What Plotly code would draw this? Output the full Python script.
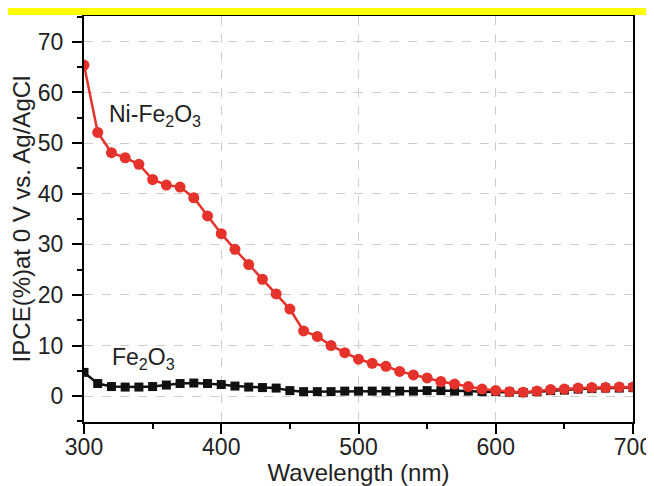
import plotly.graph_objects as go

wavelength = list(range(300, 701, 10))

ni_fe2o3 = [65.4, 52.1, 48.1, 47.1, 45.8, 42.8, 41.7, 41.3, 39.2, 35.6,
            32.1, 29.0, 26.0, 23.1, 20.2, 17.2, 12.9, 11.8, 10.0, 8.6,
            7.3, 6.5, 5.9, 4.9, 4.2, 3.6, 2.9, 2.4, 1.9, 1.4,
            1.1, 0.9, 0.8, 1.0, 1.3, 1.4, 1.6, 1.7, 1.7, 1.8, 1.8]

fe2o3 = [4.7, 2.5, 1.9, 1.8, 1.8, 1.9, 2.2, 2.5, 2.6, 2.5,
         2.3, 2.0, 1.8, 1.7, 1.6, 1.1, 0.9, 0.9, 0.9, 1.0,
         1.0, 1.0, 1.0, 1.0, 1.0, 1.1, 1.1, 1.0, 1.0, 0.9,
         0.9, 0.8, 0.7, 0.9, 1.1, 1.2, 1.4, 1.5, 1.6, 1.6, 1.7]

x_ticks = [300, 400, 500, 600, 700]
y_ticks = [0, 10, 20, 30, 40, 50, 60, 70]

FONT = "Arial, 'Liberation Sans', sans-serif"
RED = "#e5322b"
BLACK = "#111111"
GRID = "#d3cbc7"
TXT = "#222222"

W, H = 654, 478
ML, MR, MT, MB = 76, 29, 8, 64
PW = W - ML - MR
PH = H - MT - MB

fig = go.Figure()
fig.add_trace(go.Scatter(
    x=wavelength, y=fe2o3, mode="lines+markers",
    line=dict(color=BLACK, width=2.5),
    marker=dict(symbol="square", size=9, color=BLACK),
    showlegend=False))
fig.add_trace(go.Scatter(
    x=wavelength, y=ni_fe2o3, mode="lines+markers",
    line=dict(color=RED, width=2.5),
    marker=dict(symbol="circle", size=11, color=RED),
    showlegend=False))

fig.add_annotation(x=317, y=55.5, xref="x", yref="y",
                   text="Ni-Fe<sub>2</sub>O<sub>3</sub>", showarrow=False,
                   xanchor="left", yanchor="middle",
                   font=dict(family=FONT, size=23, color=TXT))
fig.add_annotation(x=319, y=7.5, xref="x", yref="y",
                   text="Fe<sub>2</sub>O<sub>3</sub>", showarrow=False,
                   xanchor="left", yanchor="middle",
                   font=dict(family=FONT, size=23, color=TXT))

# yellow bar at top
fig.add_shape(type="rect", xref="paper", yref="paper",
              x0=-ML / PW, x1=(W - ML) / PW, y0=1.0 + 1 / PH, y1=1.0 + MT / PH,
              fillcolor="#ffff00", line=dict(width=0), layer="above")

fig.update_xaxes(
    range=[300, 700], tickvals=x_ticks, ticktext=[str(v) for v in x_ticks],
    ticks="outside", ticklen=10, tickwidth=2, tickcolor="black",
    minor=dict(dtick=50, tick0=0, ticks="outside", ticklen=5, tickwidth=2,
               tickcolor="black", showgrid=False),
    showline=True, linecolor="black", linewidth=2, mirror=True,
    showgrid=True, gridcolor=GRID, gridwidth=1, griddash="dash",
    zeroline=False, automargin=False, ticklabelstandoff=-7,
    title=dict(text="Wavelength (nm)", font=dict(family=FONT, size=24, color=TXT), standoff=6),
    tickfont=dict(family=FONT, size=23, color=TXT))
fig.update_yaxes(
    range=[-5.1, 75.1], tickvals=y_ticks, ticktext=[str(v) for v in y_ticks],
    ticks="outside", ticklen=10, tickwidth=2, tickcolor="black",
    minor=dict(dtick=5, tick0=0, ticks="outside", ticklen=5, tickwidth=2,
               tickcolor="black", showgrid=False),
    showline=True, linecolor="black", linewidth=2, mirror=True,
    showgrid=True, gridcolor=GRID, gridwidth=1, griddash="dash",
    zeroline=False, automargin=False, ticklabelstandoff=4,
    title=dict(text="IPCE(%)at 0 V vs. Ag/AgCl", font=dict(family=FONT, size=24, color=TXT), standoff=8),
    tickfont=dict(family=FONT, size=23, color=TXT))

fig.update_layout(
    width=W, height=H,
    margin=dict(l=ML, r=MR, t=MT, b=MB),
    paper_bgcolor="white", plot_bgcolor="white",
    font=dict(family=FONT),
)

fig.write_html("out.html")
